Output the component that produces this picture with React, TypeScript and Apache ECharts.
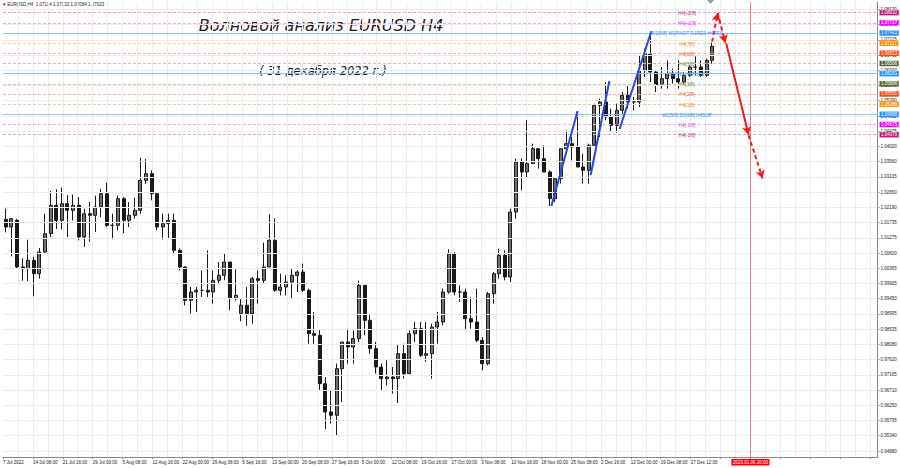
import React, { useEffect, useRef } from "react";
import * as echarts from "echarts";

// Daily EURUSD bars: [open, high, low, close]
const dailyBars: [number, number, number, number][] = [
  [1.0183, 1.0215, 1.0144, 1.0160], [1.0160, 1.0187, 1.0072, 1.0185], [1.0180, 1.0185, 1.0035, 1.0040],
  [1.0040, 1.0066, 0.9999, 1.0035], [1.0035, 1.0122, 0.9998, 1.0060], [1.0060, 1.0070, 0.9952, 1.0020],
  [1.0020, 1.0097, 1.0005, 1.0085], [1.0085, 1.0200, 1.0080, 1.0140], [1.0140, 1.0268, 1.0130, 1.0225],
  [1.0225, 1.0273, 1.0154, 1.0180], [1.0180, 1.0278, 1.0153, 1.0230], [1.0230, 1.0255, 1.0130, 1.0210],
  [1.0210, 1.0257, 1.0180, 1.0225], [1.0225, 1.0250, 1.0120, 1.0130], [1.0130, 1.0215, 1.0100, 1.0200],
  [1.0200, 1.0235, 1.0115, 1.0195], [1.0195, 1.0254, 1.0145, 1.0220], [1.0220, 1.0275, 1.0190, 1.0260],
  [1.0260, 1.0293, 1.0160, 1.0165], [1.0165, 1.0200, 1.0123, 1.0165], [1.0165, 1.0254, 1.0150, 1.0245],
  [1.0245, 1.0250, 1.0141, 1.0180], [1.0180, 1.0235, 1.0160, 1.0195], [1.0195, 1.0248, 1.0185, 1.0210],
  [1.0210, 1.0368, 1.0200, 1.0300], [1.0300, 1.0364, 1.0290, 1.0320], [1.0320, 1.0330, 1.0240, 1.0260],
  [1.0260, 1.0265, 1.0150, 1.0160], [1.0160, 1.0200, 1.0122, 1.0170], [1.0170, 1.0200, 1.0125, 1.0180],
  [1.0180, 1.0200, 1.0080, 1.0090], [1.0090, 1.0095, 1.0030, 1.0040], [1.0040, 1.0040, 0.9925, 0.9940],
  [0.9940, 0.9980, 0.9900, 0.9965], [0.9965, 0.9980, 0.9905, 0.9970], [0.9970, 1.0030, 0.9950, 0.9970],
  [0.9970, 1.0090, 0.9950, 0.9965], [0.9965, 1.0030, 0.9930, 1.0000], [1.0000, 1.0055, 0.9990, 1.0015],
  [1.0015, 1.0080, 1.0000, 1.0055], [1.0055, 1.0055, 0.9910, 0.9945], [0.9945, 1.0033, 0.9940, 0.9955],
  [0.9900, 0.9945, 0.9877, 0.9925], [0.9925, 0.9980, 0.9864, 0.9900], [0.9900, 1.0010, 0.9870, 1.0005],
  [1.0005, 1.0030, 0.9930, 1.0000], [1.0000, 1.0113, 0.9990, 1.0040], [1.0040, 1.0198, 1.0040, 1.0120],
  [1.0120, 1.0186, 0.9965, 0.9970], [0.9970, 1.0020, 0.9955, 0.9980], [0.9980, 1.0015, 0.9955, 0.9995],
  [0.9995, 1.0035, 0.9945, 1.0015], [1.0015, 1.0030, 0.9965, 1.0025], [1.0025, 1.0050, 0.9965, 0.9970],
  [0.9970, 0.9975, 0.9810, 0.9840], [0.9840, 0.9905, 0.9810, 0.9835], [0.9835, 0.9850, 0.9670, 0.9690],
  [0.9690, 0.9710, 0.9553, 0.9605], [0.9605, 0.9670, 0.9570, 0.9595], [0.9595, 0.9750, 0.9535, 0.9735],
  [0.9735, 0.9815, 0.9635, 0.9815], [0.9815, 0.9855, 0.9750, 0.9800], [0.9800, 0.9850, 0.9750, 0.9825],
  [0.9825, 0.9999, 0.9815, 0.9985], [0.9985, 0.9985, 0.9835, 0.9880], [0.9880, 0.9900, 0.9780, 0.9795],
  [0.9795, 0.9815, 0.9720, 0.9740], [0.9740, 0.9750, 0.9670, 0.9705], [0.9705, 0.9760, 0.9685, 0.9710],
  [0.9710, 0.9740, 0.9660, 0.9705], [0.9705, 0.9807, 0.9632, 0.9780], [0.9780, 0.9810, 0.9705, 0.9720],
  [0.9720, 0.9850, 0.9720, 0.9840], [0.9840, 0.9875, 0.9815, 0.9855], [0.9855, 0.9875, 0.9770, 0.9775],
  [0.9775, 0.9875, 0.9755, 0.9780], [0.9780, 0.9870, 0.9705, 0.9860], [0.9860, 0.9905, 0.9810, 0.9875],
  [0.9875, 0.9975, 0.9865, 0.9965], [0.9965, 1.0093, 0.9960, 1.0080], [1.0080, 1.0085, 0.9955, 0.9965],
  [0.9965, 0.9985, 0.9935, 0.9965], [0.9965, 0.9975, 0.9850, 0.9885], [0.9885, 0.9950, 0.9855, 0.9875],
  [0.9875, 0.9975, 0.9815, 0.9820], [0.9820, 0.9830, 0.9730, 0.9750], [0.9750, 0.9965, 0.9745, 0.9960],
  [0.9960, 1.0025, 0.9930, 1.0020], [1.0020, 1.0095, 1.0005, 1.0075], [1.0075, 1.0090, 1.0000, 1.0010],
  [1.0010, 1.0215, 0.9995, 1.0205], [1.0205, 1.0365, 1.0185, 1.0355], [1.0355, 1.0365, 1.0270, 1.0325],
  [1.0325, 1.0481, 1.0310, 1.0350], [1.0350, 1.0410, 1.0350, 1.0395], [1.0395, 1.0395, 1.0335, 1.0365],
  [1.0365, 1.0405, 1.0325, 1.0325], [1.0325, 1.0330, 1.0223, 1.0245], [1.0245, 1.0310, 1.0235, 1.0305],
  [1.0305, 1.0395, 1.0290, 1.0395], [1.0395, 1.0450, 1.0380, 1.0410], [1.0410, 1.0430, 1.0360, 1.0400],
  [1.0400, 1.0497, 1.0340, 1.0340], [1.0340, 1.0380, 1.0290, 1.0330], [1.0330, 1.0410, 1.0290, 1.0405],
  [1.0405, 1.0530, 1.0400, 1.0525], [1.0525, 1.0545, 1.0430, 1.0535], [1.0535, 1.0594, 1.0480, 1.0490],
  [1.0490, 1.0515, 1.0445, 1.0465], [1.0465, 1.0530, 1.0443, 1.0510], [1.0510, 1.0565, 1.0500, 1.0555],
  [1.0555, 1.0585, 1.0515, 1.0535], [1.0535, 1.0550, 1.0510, 1.0535], [1.0535, 1.0673, 1.0520, 1.0630],
  [1.0630, 1.0695, 1.0610, 1.0680], [1.0680, 1.0736, 1.0595, 1.0625], [1.0625, 1.0630, 1.0565, 1.0585],
  [1.0585, 1.0640, 1.0575, 1.0605], [1.0605, 1.0660, 1.0575, 1.0620], [1.0620, 1.0635, 1.0590, 1.0605],
  [1.0605, 1.0660, 1.0575, 1.0595], [1.0595, 1.0625, 1.0590, 1.0615], [1.0615, 1.0645, 1.0610, 1.0640],
  [1.0640, 1.0672, 1.0615, 1.0640], [1.0640, 1.0660, 1.0610, 1.0615], [1.0615, 1.0665, 1.0610, 1.0660],
  [1.0660, 1.0713, 1.0650, 1.0702],
];

const headerQuote = [1.07114, 1.07132, 1.07084, 1.07023];

const xTickLabels = [
  "7 Jul 2022", "14 Jul 08:00", "21 Jul 16:00", "29 Jul 00:00", "5 Aug 08:00", "12 Aug 16:00",
  "22 Aug 00:00", "29 Aug 08:00", "5 Sep 16:00", "13 Sep 00:00", "20 Sep 08:00", "27 Sep 16:00",
  "5 Oct 00:00", "12 Oct 08:00", "19 Oct 16:00", "27 Oct 00:00", "3 Nov 08:00", "10 Nov 16:00",
  "18 Nov 00:00", "25 Nov 08:00", "2 Dec 16:00", "12 Dec 00:00", "19 Dec 08:00", "27 Dec 12:00",
];

const yTickValues = [
  1.0813, 1.07675, 1.07215, 1.0676, 1.063, 1.05845, 1.0539, 1.0493, 1.04475, 1.0402,
  1.0356, 1.03105, 1.0265, 1.0219, 1.01735, 1.01275, 1.0082, 1.00365, 0.99905, 0.9945,
  0.98995, 0.98535, 0.9808, 0.9762, 0.97165, 0.9671, 0.9625, 0.95795, 0.9534, 0.9488,
];

const levelValues = [1.08032, 1.07727, 1.07422, 1.07117, 1.06812, 1.06506, 1.06201, 1.05896, 1.05591, 1.05286, 1.0498, 1.04675, 1.0437];
const levelNames = [
  "H4[+2/8]", "H4[+1/8]", "W1[6/8] W1PIVOT D1RES H4RES", "H4[7/8]", "H4[6/8]", "H4[5/8]",
  "D1[7/8] H4PIVOT", "H4[3/8]", "H4[2/8]", "H4[1/8]", "W1[5/8] D1[6/8] H4SUP", "H4[-1/8]", "H4[-2/8]",
];

// Wave lines (bar index on the H4 axis, price)
const waveLines: [number, number, number, number][] = [
  [587, 1.0223, 615, 1.0508],
  [629, 1.0316, 649, 1.0598],
  [660, 1.0454, 694, 1.0748],
];
// Forecast arrows: [x1, y1, x2, y2, dashed?]
const forecastArrows: [number, number, number, number, boolean][] = [
  [759, 1.0716, 765, 1.0802, true],
  [765, 1.0802, 773, 1.0713, true],
  [774, 1.0711, 798, 1.0437, false],
  [798, 1.0435, 813, 1.0306, true],
];
const markerBarIndex = 800;
const markerLabel = "2023.01.06 20:00";

// styles
const levelStyle = [
  { tag: "#c2187f", text: "#b8308c", line: "#e8a0d4", dashed: true },
  { tag: "#ff00ff", text: "#e040e0", line: "#f6a6f2", dashed: true },
  { tag: "#1e90ff", text: "#3a8ee8", line: "#8cc4fa", dashed: false },
  { tag: "#ff8c00", text: "#f08a20", line: "#f8cc98", dashed: true },
  { tag: "#ff4500", text: "#f06030", line: "#f7b4a4", dashed: true },
  { tag: "#556b2f", text: "#7a8a40", line: "#c8c8ac", dashed: true },
  { tag: "#1e90ff", text: "#3a8ee8", line: "#8cc4fa", dashed: false },
  { tag: "#556b2f", text: "#7a8a40", line: "#c8c8ac", dashed: true },
  { tag: "#ff4500", text: "#f06030", line: "#f7b4a4", dashed: true },
  { tag: "#ff8c00", text: "#f08a20", line: "#f8cc98", dashed: true },
  { tag: "#1e90ff", text: "#3a8ee8", line: "#8cc4fa", dashed: false },
  { tag: "#ff00ff", text: "#e040e0", line: "#f6a6f2", dashed: true },
  { tag: "#c2187f", text: "#b8308c", line: "#e8a0d4", dashed: true },
];

const FONT = "Liberation Sans, Arial, sans-serif";
const DAY_SLOTS = 156;
const BAR_SLOTS = 937;
const LEVEL_TEXT_BAR = 732;

export default function App() {
  const ref = useRef<HTMLDivElement>(null);

  useEffect(() => {
    if (!ref.current) return;
    const chart = echarts.init(ref.current, null, { renderer: "svg" });

    const dayCats = Array.from({ length: DAY_SLOTS }, (_, i) => `d${i}`);
    const barCats = Array.from({ length: BAR_SLOTS }, (_, i) => `b${i}`);
    const candleData = dailyBars.map(([o, h, l, c]) => [o, c, l, h]);

    const tagLabel = (value: number, bg: string) => ({
      show: true,
      position: "end",
      distance: 2,
      formatter: value.toFixed(5),
      backgroundColor: bg,
      color: "#ffffff",
      fontSize: 4.5,
      lineHeight: 5,
      fontFamily: FONT,
      padding: [0.5, 1.5, 0, 1.5],
    });

    const levelLines: any[] = [
      {
        yAxis: headerQuote[3],
        lineStyle: { opacity: 0, width: 0 },
        label: { ...tagLabel(headerQuote[3], "#000000"), offset: [0, 1] },
      },
    ];
    levelValues.forEach((v, i) => {
      const s = levelStyle[i];
      levelLines.push({
        yAxis: v,
        lineStyle: { color: s.line, width: 1, type: s.dashed ? [3, 2] : "solid", opacity: 1 },
        label: tagLabel(v, s.tag),
      });
    });

    const levelTexts = levelValues.map((v, i) => ({
      coord: [LEVEL_TEXT_BAR, v],
      symbol: "circle",
      symbolSize: 1,
      itemStyle: { color: "rgba(0,0,0,0)" },
      label: {
        show: true,
        position: "inside",
        formatter: levelNames[i],
        color: levelStyle[i].text,
        fontSize: 4.7,
        fontFamily: FONT,
        offset: [0, 1],
      },
    }));

    const gridLines = yTickValues.map((v) => ({ yAxis: v }));

    const option: any = {
      animation: false,
      backgroundColor: "#ffffff",
      grid: { left: 0, right: 22.5, top: 2, bottom: 11, containLabel: false },
      xAxis: [
        {
          type: "category",
          data: dayCats,
          position: "bottom",
          boundaryGap: true,
          axisLine: { show: false },
          axisTick: { show: false },
          axisLabel: { show: false },
          splitLine: { show: false },
        },
        {
          type: "category",
          data: barCats,
          position: "bottom",
          boundaryGap: false,
          axisLine: { show: true, lineStyle: { color: "#8a8a8a", width: 1 } },
          axisTick: {
            show: true,
            length: 2,
            interval: (i: number) => i % 32 === 0,
            lineStyle: { color: "#8a8a8a" },
          },
          axisLabel: {
            show: true,
            interval: (i: number) => i % 32 === 0 && i / 32 < xTickLabels.length,
            formatter: (_v: string, i: number) => xTickLabels[i / 32] ?? "",
            align: "left",
            fontSize: 4.5,
            fontFamily: FONT,
            color: "#222",
            margin: 3,
          },
          splitLine: {
            show: true,
            interval: (i: number) => i % 16 === 0 && i > 0,
            lineStyle: { color: "#ececec", width: 1 },
          },
        },
      ],
      yAxis: {
        type: "value",
        position: "right",
        min: 0.947,
        max: 1.0835,
        axisLine: { show: true, lineStyle: { color: "#8a8a8a", width: 1 } },
        axisTick: { show: true, length: 2, customValues: yTickValues, lineStyle: { color: "#8a8a8a" } },
        axisLabel: {
          show: true,
          customValues: yTickValues,
          formatter: (v: number) => v.toFixed(5),
          fontSize: 4.5,
          fontFamily: FONT,
          color: "#222",
          margin: 3,
        },
        splitLine: { show: false },
      },
      series: [
        {
          name: "grid",
          type: "line",
          xAxisIndex: 1,
          data: [],
          silent: true,
          z: 0,
          markLine: {
            silent: true,
            precision: 5,
            symbol: ["none", "none"],
            label: { show: false },
            lineStyle: { color: "#ececec", width: 1, type: "solid" },
            data: gridLines,
          },
        },
        {
          name: "levels",
          type: "line",
          xAxisIndex: 1,
          data: [],
          silent: true,
          z: 1,
          markLine: {
            silent: true,
            precision: 5,
            symbol: ["none", "none"],
            data: levelLines,
          },
        },
        {
          name: "marker",
          type: "line",
          xAxisIndex: 1,
          data: [],
          silent: true,
          z: 1,
          markLine: {
            silent: true,
            precision: 5,
            symbol: ["none", "none"],
            data: [
              {
                xAxis: markerBarIndex,
                lineStyle: { color: "#f08080", width: 1, type: "solid" },
                label: {
                  show: true,
                  position: "start",
                  distance: 2,
                  formatter: markerLabel,
                  backgroundColor: "#ff0000",
                  color: "#ffffff",
                  fontSize: 4.5,
                  fontFamily: FONT,
                  padding: [1, 1.5, 0.5, 1.5],
                },
              },
            ],
          },
        },
        {
          name: "EURUSD,H4",
          type: "candlestick",
          xAxisIndex: 0,
          data: candleData,
          barWidth: 3.5,
          z: 3,
          itemStyle: {
            color: "#707070",
            color0: "#1a1a1a",
            borderColor: "#1a1a1a",
            borderColor0: "#1a1a1a",
            borderWidth: 1,
          },
        },
        {
          name: "labels",
          type: "line",
          xAxisIndex: 1,
          data: [],
          silent: true,
          z: 4,
          markPoint: { silent: true, data: levelTexts },
        },
        {
          name: "waves",
          type: "line",
          xAxisIndex: 1,
          data: [],
          silent: true,
          z: 5,
          markLine: {
            silent: true,
            precision: 5,
            symbol: ["none", "none"],
            label: { show: false },
            lineStyle: { color: "#2844e6", width: 2, type: "solid" },
            data: waveLines.map(([x1, y1, x2, y2]) => [{ coord: [x1, y1] }, { coord: [x2, y2] }]),
          },
        },
        {
          name: "forecast",
          type: "line",
          xAxisIndex: 1,
          data: [],
          silent: true,
          z: 5,
          markLine: {
            silent: true,
            precision: 5,
            symbol: ["none", "arrow"],
            symbolSize: [7, 8],
            label: { show: false },
            data: forecastArrows.map(([x1, y1, x2, y2, dashed]) => {
              const ls = { color: "#f01818", width: 2, type: dashed ? [4, 3] : "solid" };
              return [
                { coord: [x1, y1], lineStyle: ls },
                { coord: [x2, y2], lineStyle: ls },
              ];
            }),
          },
        },
      ],
      graphic: [
        {
          type: "text",
          left: 3,
          top: 2,
          style: {
            text: `▾ EURUSD,H4  ${headerQuote.map((v) => v.toFixed(5)).join(" ")}`,
            fontSize: 4.5,
            fontFamily: FONT,
            fill: "#222",
          },
        },
        {
          type: "polygon",
          shape: { points: [[707, 0], [714, 0], [710.5, 4]] },
          style: { fill: "#9a9a9a" },
        },
        {
          type: "text",
          x: 321,
          y: 25,
          style: {
            text: "Волновой анализ EURUSD H4",
            fontSize: 16,
            fontStyle: "italic",
            fontFamily: "DejaVu Sans, sans-serif",
            fill: "#1a1a1a",
            align: "center",
            verticalAlign: "middle",
          },
        },
        {
          type: "text",
          x: 323,
          y: 71,
          style: {
            text: "( 31 декабря 2022 г.)",
            fontSize: 11.5,
            fontStyle: "italic",
            fontFamily: "DejaVu Sans, sans-serif",
            fill: "#1a1a1a",
            align: "center",
            verticalAlign: "middle",
          },
        },
      ],
    };

    chart.setOption(option);
    return () => chart.dispose();
  }, []);

  return (
    <div
      ref={ref}
      style={{ position: "absolute", left: 0, top: 0, width: 900, height: 468, background: "#ffffff" }}
    />
  );
}
